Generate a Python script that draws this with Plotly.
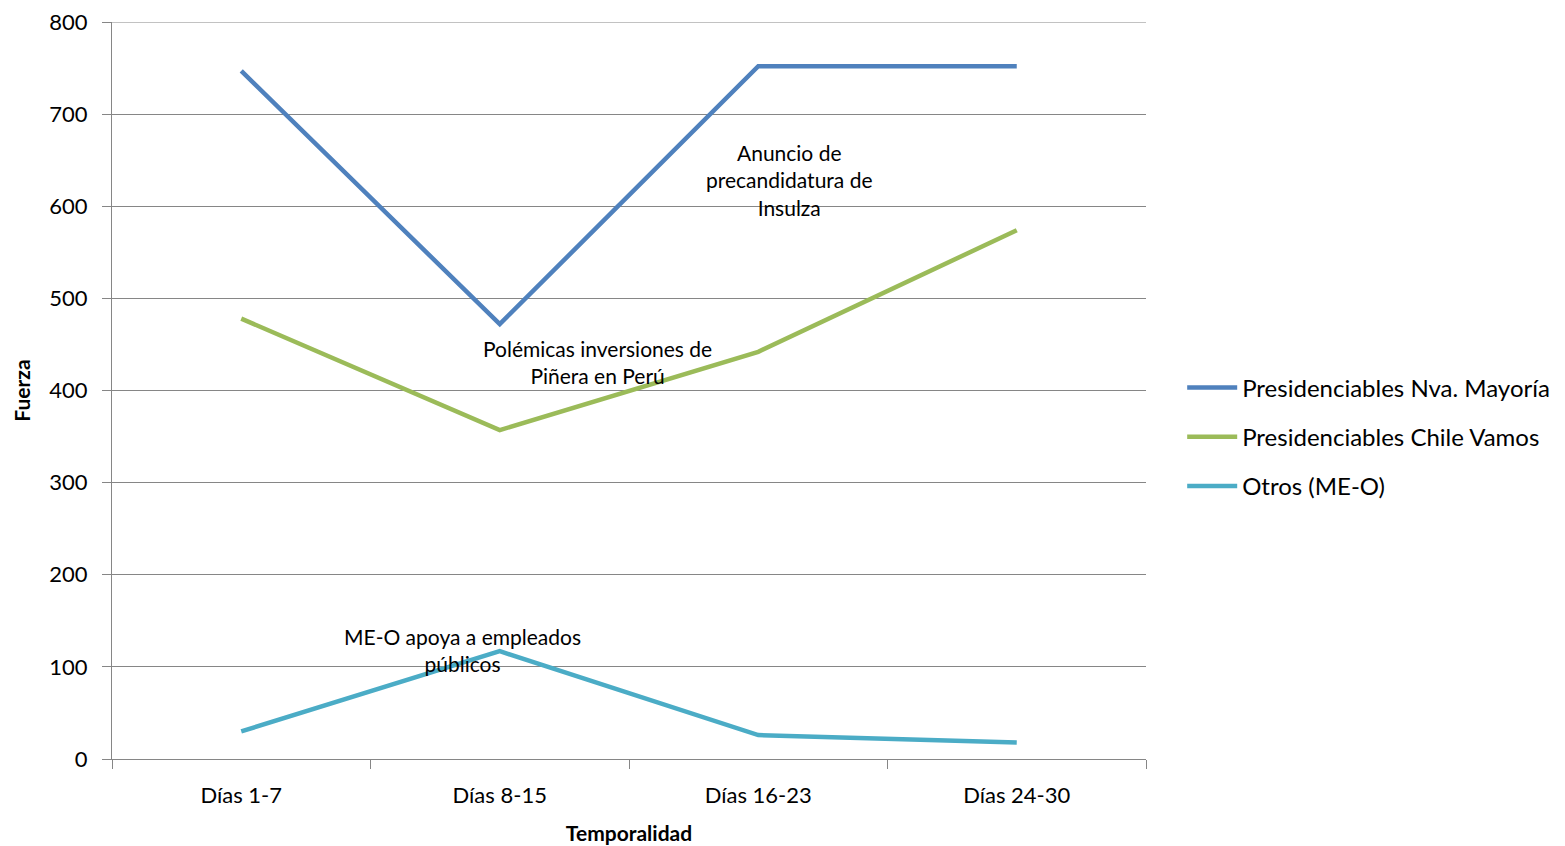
import plotly.graph_objects as go

categories = ["Días 1-7", "Días 8-15", "Días 16-23", "Días 24-30"]
nva_mayoria = [747, 472, 752, 752]
chile_vamos = [478, 357, 442, 574]
otros = [30, 117, 26, 18]
series_names = ["Presidenciables Nva. Mayoría", "Presidenciables Chile Vamos", "Otros (ME-O)"]
colors = ["#4F81BD", "#9BBB59", "#4BACC6"]

annotations_text = [
    ("Días 16-23", 629, "Anuncio de<br>precandidatura de<br>Insulza"),
    ("Días 8-15", 431, "Polémicas inversiones de<br>Piñera en Perú"),
    ("Días 8-15", 118, "ME-O apoya a empleados<br>públicos"),
]
ann_xshift = [31, 98, -37]

FONT = "Lato"
GRID = "#868686"

fig = go.Figure()
for i, (name, vals, c) in enumerate(zip(series_names, [nva_mayoria, chile_vamos, otros], colors)):
    fig.add_trace(go.Scatter(x=categories, y=vals, name=name, mode="lines",
                             legendgroup=f"g{i}",
                             line=dict(color=c, width=4.5)))

anns = []
for (xc, yv, txt), xs in zip(annotations_text, ann_xshift):
    anns.append(dict(x=xc, y=yv, text=txt, showarrow=False, xshift=xs,
                     font=dict(family=FONT, size=21, color="#000000"),
                     align="center", yanchor="middle"))

fig.update_layout(
    width=1565, height=846,
    margin=dict(l=104, r=427, t=14, b=95),
    paper_bgcolor="white", plot_bgcolor="white",
    font=dict(family=FONT, size=22, color="#000000"),
    showlegend=True,
    legend=dict(x=1.035, y=0.437, xanchor="left", yanchor="middle",
                font=dict(family=FONT, size=24), tracegroupgap=15,
                itemwidth=50),
    annotations=anns,
    shapes=[dict(type="line", xref="paper", yref="y", x0=0, x1=1, y0=800, y1=800,
                 line=dict(color=GRID, width=1), layer="below")],
    xaxis=dict(type="category", showgrid=False, showline=True, linecolor=GRID,
               linewidth=1, ticks="outside", tickson="boundaries", ticklen=9,
               tickcolor=GRID, ticklabelstandoff=17, automargin=False,
               title=dict(text="<b>Temporalidad</b>", font=dict(size=21), standoff=18),
               range=[-0.5, 3.5]),
    yaxis=dict(range=[0, 800], dtick=100, showgrid=True, gridcolor=GRID, gridwidth=1,
               showline=True, linecolor=GRID, linewidth=1, ticks="outside", ticklen=9,
               tickcolor=GRID, zeroline=False, ticklabelstandoff=10, automargin=False,
               ticklabeloverflow="allow",
               title=dict(text="<b>Fuerza</b>", font=dict(size=21), standoff=12)),
)

fig.write_html("out.html")
